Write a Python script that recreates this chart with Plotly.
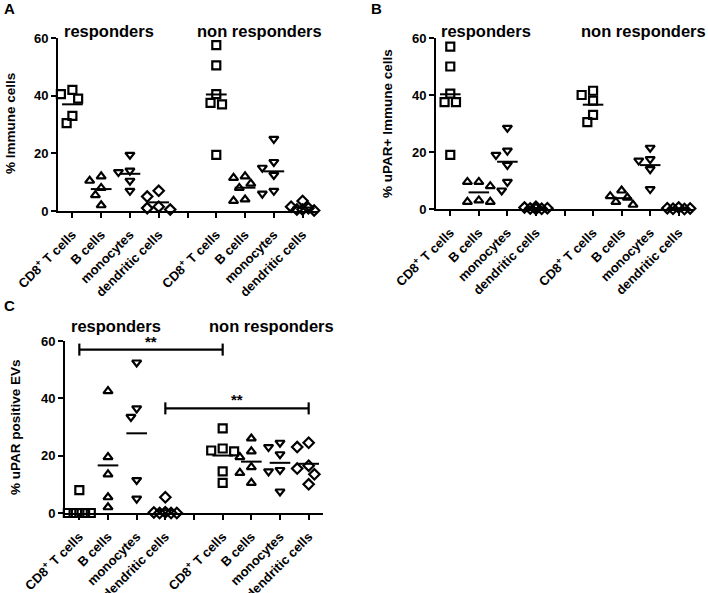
import plotly.graph_objects as go

W, H = 708, 593
OFF = 0  # page body margin removed below via post_script

# ---------------- data ----------------
categories = ["CD8<sup>+</sup> T cells", "B cells", "monocytes", "dendritic cells"]
groups = ["responders", "non responders"]

# Panel A: % Immune cells
A_resp = {
    "CD8": [40.5, 39, 42, 33, 30.5],
    "B": [12, 10.5, 8, 5.5, 2],
    "mono": [19.5, 14, 13.5, 10.5, 7],
    "dend": [7, 5, 1.5, 1, 0.5],
}
A_nonresp = {
    "CD8": [57.5, 50.5, 40.5, 37.5, 37, 19.5],
    "B": [12, 11.5, 9.5, 8, 4, 3.5],
    "mono": [25, 17, 15, 12.5, 7, 6],
    "dend": [3.5, 1.5, 1, 0.5, 0.5, 0.2],
}
# Panel B: % uPAR+ Immune cells
B_resp = {
    "CD8": [57, 50, 40.5, 37.5, 37.5, 19],
    "B": [9.5, 9.5, 8, 3, 2.5, 2.5],
    "mono": [28.5, 20.5, 19, 15.5, 9.5, 6.5],
    "dend": [0.8, 0.5, 0.3, 0.2, 0.1, 0],
}
B_nonresp = {
    "CD8": [41.5, 40, 38, 33, 30.5],
    "B": [6.5, 4.5, 4, 2.5, 1.5],
    "mono": [21.5, 17.5, 17, 14, 7],
    "dend": [0.5, 0.3, 0.2, 0.1, 0],
}
# Panel C: % uPAR positive EVs
C_resp = {
    "CD8": [8, 0, 0, 0, 0, 0],
    "B": [42.5, 19.5, 13.5, 5.5, 2],
    "mono": [52.5, 36.5, 33.5, 11.5, 5],
    "dend": [5.5, 0.3, 0.2, 0, 0, 0],
}
C_nonresp = {
    "CD8": [29.5, 22.5, 21.5, 21.8, 14.5, 10.5],
    "B": [26, 21.5, 19.5, 16, 14, 10.5],
    "mono": [24.5, 23, 20.5, 15, 14.5, 7.5],
    "dend": [24.5, 23, 16.5, 15.5, 13.5, 10],
}
# significance brackets in C: (from position, to position, height, label)
C_sig = [(1, 6, 57, "**"), (4, 9, 36.5, "**")]

y_titles = ["% Immune cells", "% uPAR+ Immune cells", "% uPAR positive EVs"]
y_ticks = [0, 20, 40, 60]

# ---------------- layout geometry ----------------
keys = ["CD8", "B", "mono", "dend"]
symbols = {"CD8": "square-open", "B": "triangle-up-open",
           "mono": "triangle-down-open", "dend": "diamond-open"}
positions_resp = [1, 2, 3, 4]
positions_non = [6, 7, 8, 9]
tickvals = list(range(1, 10))
ticktext = categories + [""] + categories

# panel boxes in screen pixels: (x0, x1, ytop, ybottom)
panels_px = [
    (58, 317, 38, 211),
    (436, 693, 38, 209),
    (65, 323, 341, 513),
]
XR = [0.5, 9.5]
YR = [0, 60]


def px_x(x):
    return (x - OFF) / W


def px_y(y):
    return 1 - (y - OFF) / H


FONT = "Liberation Sans, Arial, sans-serif"
fig = go.Figure()


def swarm(values, sx, sy, msize=9.0, step=0.2, maxk=2):
    """deterministic beeswarm offsets (in category units), limited width"""
    order = sorted(range(len(values)), key=lambda i: -values[i])
    placed = []
    offs = [0.0] * len(values)
    cands = [0.0]
    for k in range(1, maxk + 1):
        cands += [-k * step, k * step]
    for i in order:
        best, bestd = 0.0, -1.0
        for c in cands:
            dmin = 1e9
            for (ox, oy) in placed:
                dx = (c - ox) * sx
                dy = (values[i] - oy) * sy
                dmin = min(dmin, (dx * dx + dy * dy) ** 0.5)
            if dmin >= msize:
                best = c
                break
            if dmin > bestd + 0.5:
                best, bestd = c, dmin
        offs[i] = best
        placed.append((best, values[i]))
    return offs


panel_data = [(A_resp, A_nonresp), (B_resp, B_nonresp), (C_resp, C_nonresp)]

for p, ((x0, x1, yt, yb), (resp, non)) in enumerate(zip(panels_px, panel_data)):
    n = "" if p == 0 else str(p + 1)
    xa, ya = "x" + n, "y" + n
    sx = (x1 - x0) / (XR[1] - XR[0])
    sy = (yb - yt) / (YR[1] - YR[0])
    for grp, poss in ((resp, positions_resp), (non, positions_non)):
        for k, pos in zip(keys, poss):
            vals = grp[k]
            offs = swarm(vals, sx, sy)
            fig.add_trace(go.Scatter(
                x=[pos + o for o in offs], y=vals, mode="markers",
                xaxis=xa, yaxis=ya, cliponaxis=False, showlegend=False,
                hoverinfo="skip",
                marker=dict(symbol=symbols[k], size=8, color="black",
                            line=dict(color="black", width=2.2)),
            ))
            m = sum(vals) / len(vals)
            fig.add_trace(go.Scatter(
                x=[pos - 0.36, pos + 0.36], y=[m, m], mode="lines",
                xaxis=xa, yaxis=ya, cliponaxis=False, showlegend=False,
                hoverinfo="skip",
                line=dict(color="black", width=2),
            ))
    axis_common = dict(showline=True, linecolor="black", linewidth=2,
                       ticks="outside", ticklen=5, tickwidth=2, tickcolor="black",
                       showgrid=False, zeroline=False, automargin=False)
    fig.update_layout(**{
        ("xaxis" + n): dict(domain=[px_x(x0), px_x(x1)], range=XR, anchor=ya,
                            tickvals=tickvals, ticktext=ticktext, tickangle=-45,
                            ticklabelstandoff=4,
                            tickfont=dict(family=FONT, size=13, color="black", weight="bold"),
                            **axis_common),
        ("yaxis" + n): dict(domain=[px_y(yb), px_y(yt)], range=YR, anchor=xa,
                            tickvals=y_ticks,
                            tickfont=dict(family=FONT, size=13, color="black", weight="bold"),
                            **axis_common),
    })

# ---------------- annotations ----------------
ann = []
# panel letters
for txt, x, y in (("A", 9, 9), ("B", 377, 9), ("C", 9, 305)):
    ann.append(dict(text=txt, x=px_x(x), y=px_y(y), xref="paper", yref="paper",
                    showarrow=False, font=dict(family=FONT, size=15, color="black", weight="bold"),
                    xanchor="center", yanchor="middle"))
# group labels
group_pos = [((109, 31), (259, 31)), ((486, 31), (643, 31)), ((116, 326), (271, 326))]
for (g1, g2) in group_pos:
    for txt, (x, y) in zip(groups, (g1, g2)):
        ann.append(dict(text=txt, x=px_x(x), y=px_y(y), xref="paper", yref="paper",
                        showarrow=False,
                        font=dict(family=FONT, size=16.5, color="black", weight="bold"),
                        xanchor="center", yanchor="middle"))
# y titles
ytitle_pos = [(10, 124), (387, 124), (15, 427)]
for txt, (x, y) in zip(y_titles, ytitle_pos):
    ann.append(dict(text=txt, x=px_x(x), y=px_y(y), xref="paper", yref="paper",
                    showarrow=False, textangle=-90,
                    font=dict(family=FONT, size=13.5, color="black", weight="bold"),
                    xanchor="center", yanchor="middle"))

shapes = []
for (a, b, h, lab) in C_sig:
    shapes.append(dict(type="line", xref="x3", yref="y3", x0=a, x1=b, y0=h, y1=h,
                       line=dict(color="black", width=2.2)))
    for xe in (a, b):
        shapes.append(dict(type="line", xref="x3", yref="y3", x0=xe, x1=xe,
                           y0=h - 2.1, y1=h + 2.1, line=dict(color="black", width=2.2)))
    ann.append(dict(text=lab, x=(a + b) / 2, y=h, xref="x3", yref="y3",
                    showarrow=False, yanchor="bottom", xanchor="center", yshift=-2,
                    font=dict(family=FONT, size=15, color="black", weight="bold")))

fig.update_layout(
    width=W, height=H, margin=dict(l=0, r=0, t=0, b=0),
    paper_bgcolor="white", plot_bgcolor="white",
    annotations=ann, shapes=shapes, showlegend=False,
)

fig.write_html("out.html", config={"displayModeBar": False},
               post_script="document.body.style.margin='0px';")
